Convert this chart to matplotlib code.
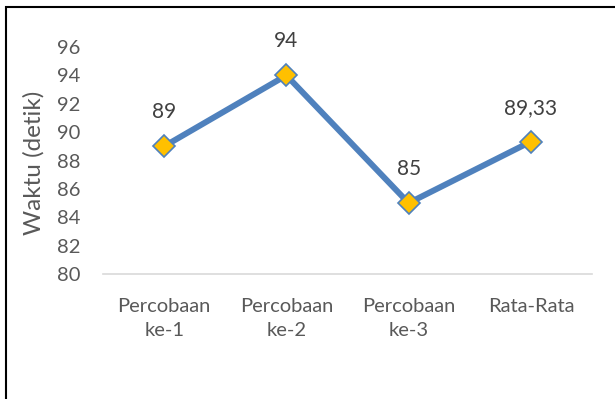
import matplotlib.pyplot as plt
from matplotlib.patches import Rectangle

plt.rcParams['font.family'] = ['Lato', 'DejaVu Sans']

# data
kategori = ['Percobaan\nke-1', 'Percobaan\nke-2', 'Percobaan\nke-3', 'Rata-Rata']
waktu = [89, 94, 85, 89.33]
label = ['89', '94', '85', '89,33']

fig = plt.figure(figsize=(6.15, 3.99), dpi=100)
ax = fig.add_axes([103/615, 1 - 274/399, (592 - 103)/615, (274 - 47)/399])

x = range(len(waktu))
ax.plot(x, waktu, color='#4F81BD', lw=4.3, marker='D', ms=11.5,
        mfc='#FFC000', mec='#4F81BD', mew=1.2, zorder=3)

for i, (v, t) in enumerate(zip(waktu, label)):
    ax.annotate(t, (i, v), xytext=(0, 24.5), textcoords='offset points',
                ha='center', va='center', fontsize=15, color='#404040')

ax.set_xlim(-0.5, 3.5)
ax.set_ylim(80, 96)
ax.set_yticks(range(80, 97, 2))
ax.set_xticks(list(x))
ax.set_xticklabels(kategori, fontsize=14.5, color='#595959', linespacing=1.55)
ax.tick_params(axis='y', labelsize=14.5, labelcolor='#595959', length=0, pad=16)
ax.tick_params(axis='x', length=0, pad=17)

for s in ['top', 'right', 'left']:
    ax.spines[s].set_visible(False)
ax.spines['bottom'].set_color('#D9D9D9')
ax.spines['bottom'].set_linewidth(1.2)

ax.set_ylabel('Waktu (detik)', fontsize=17.5, color='#595959')
ax.yaxis.set_label_coords(-0.12, 0.49)

# frame of the chart box
fig.patches.append(Rectangle((6/615, -0.1), 1.2, 1.1 - 7/399,
                             transform=fig.transFigure, fill=False,
                             ec='black', lw=1.5))

fig.savefig('out.png', dpi=100)
